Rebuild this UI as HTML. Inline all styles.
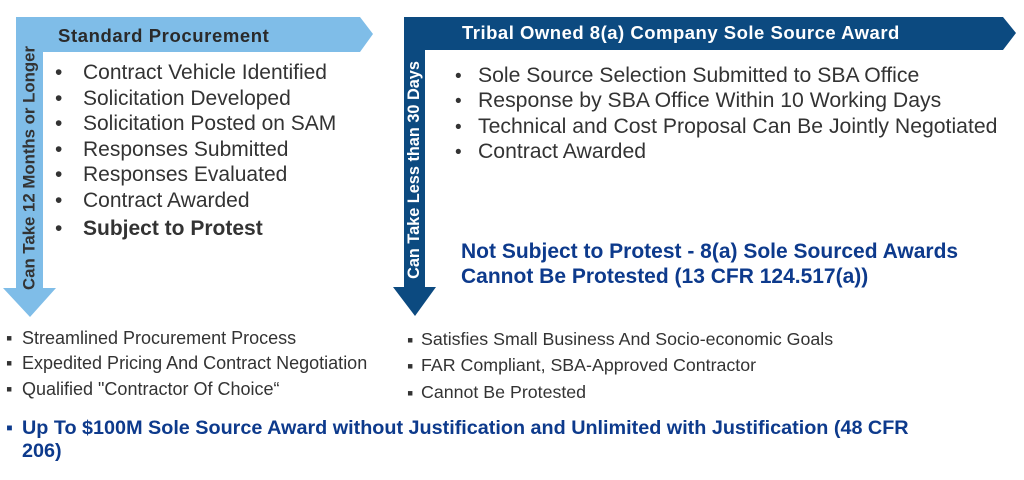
<!DOCTYPE html>
<html><head><style>
body{margin:0;width:1024px;height:480px;background:#fff;position:relative;overflow:hidden;font-family:"Liberation Sans",sans-serif}
.t{position:absolute;white-space:nowrap;line-height:1}
.g{color:#333}
.rot{position:absolute;transform:translate(-50%,-50%) rotate(-90deg);white-space:nowrap;font-weight:bold;line-height:1}
.b{color:#0d3a8c;font-weight:bold}
</style></head><body>
<svg width="1024" height="480" style="position:absolute;left:0;top:0">
<polygon points="16,17 360,17 373,34 360,52 43,52 43,288 56,288 30,317 3,288 16,288" fill="#7fbde8"/>
<polygon points="404,17 1003,17 1016,33 1003,50 425,50 425,287 436,287 415,316 393,287 404,287" fill="#0c4a80"/>
</svg>
<div class="t" style="left:58px;top:27px;font-size:18.5px;letter-spacing:0.6px;font-weight:bold;color:#2a2a2a">Standard Procurement</div>
<div class="t" style="left:462px;top:24px;font-size:18.5px;letter-spacing:0.5px;font-weight:bold;color:#fff">Tribal Owned 8(a) Company Sole Source Award</div>
<div class="rot" style="left:30px;top:168px;color:#333;font-size:16.8px">Can Take 12 Months or Longer</div>
<div class="rot" style="left:414px;top:170px;color:#fff;font-size:16.3px">Can Take Less than 30 Days</div>

<div class="t g" style="left:55px;top:62px;font-size:21px">•</div><div class="t g" style="left:83px;top:62px;font-size:21px">Contract Vehicle Identified</div>
<div class="t g" style="left:55px;top:88px;font-size:21px">•</div><div class="t g" style="left:83px;top:88px;font-size:21px">Solicitation Developed</div>
<div class="t g" style="left:55px;top:113px;font-size:21px">•</div><div class="t g" style="left:83px;top:113px;font-size:21px">Solicitation Posted on SAM</div>
<div class="t g" style="left:55px;top:139px;font-size:21px">•</div><div class="t g" style="left:83px;top:139px;font-size:21px">Responses Submitted</div>
<div class="t g" style="left:55px;top:164px;font-size:21px">•</div><div class="t g" style="left:83px;top:164px;font-size:21px">Responses Evaluated</div>
<div class="t g" style="left:55px;top:190px;font-size:21px">•</div><div class="t g" style="left:83px;top:190px;font-size:21px">Contract Awarded</div>
<div class="t g" style="left:55px;top:218px;font-size:21px">•</div><div class="t g" style="left:83px;top:218px;font-size:21px;font-weight:bold">Subject to Protest</div>

<div class="t g" style="left:455px;top:67px;font-size:19px">•</div><div class="t g" style="left:478px;top:65px;font-size:21.2px">Sole Source Selection Submitted to SBA Office</div>
<div class="t g" style="left:455px;top:92px;font-size:19px">•</div><div class="t g" style="left:478px;top:90px;font-size:21.2px">Response by SBA Office Within 10 Working Days</div>
<div class="t g" style="left:455px;top:118px;font-size:19px">•</div><div class="t g" style="left:478px;top:116px;font-size:21.2px">Technical and Cost Proposal Can Be Jointly Negotiated</div>
<div class="t g" style="left:455px;top:143px;font-size:19px">•</div><div class="t g" style="left:478px;top:141px;font-size:21.2px">Contract Awarded</div>

<div class="t b" style="left:461px;top:241px;font-size:21px">Not Subject to Protest - 8(a) Sole Sourced Awards</div>
<div class="t b" style="left:461px;top:266px;font-size:21px">Cannot Be Protested (13 CFR 124.517(a))</div>

<div class="t g" style="left:6px;top:329px;font-size:18px">▪</div><div class="t g" style="left:22px;top:329px;font-size:18px">Streamlined Procurement Process</div>
<div class="t g" style="left:6px;top:354px;font-size:18px">▪</div><div class="t g" style="left:22px;top:354px;font-size:18px">Expedited Pricing And Contract Negotiation</div>
<div class="t g" style="left:6px;top:380px;font-size:18px">▪</div><div class="t g" style="left:22px;top:380px;font-size:18px">Qualified "Contractor Of Choice“</div>
<div class="t g" style="left:407px;top:331px;font-size:18px">▪</div><div class="t g" style="left:421px;top:331px;font-size:17.8px">Satisfies Small Business And Socio-economic Goals</div>
<div class="t g" style="left:407px;top:357px;font-size:18px">▪</div><div class="t g" style="left:421px;top:357px;font-size:17.8px">FAR Compliant, SBA-Approved Contractor</div>
<div class="t g" style="left:407px;top:384px;font-size:18px">▪</div><div class="t g" style="left:421px;top:384px;font-size:17.8px">Cannot Be Protested</div>

<div class="t b" style="left:6px;top:419px;font-size:19.5px">▪</div><div class="t b" style="left:22px;top:419px;font-size:19.8px">Up To $100M Sole Source Award without Justification and Unlimited with Justification (48 CFR</div>
<div class="t b" style="left:22px;top:442px;font-size:19.8px">206)</div>
</body></html>
